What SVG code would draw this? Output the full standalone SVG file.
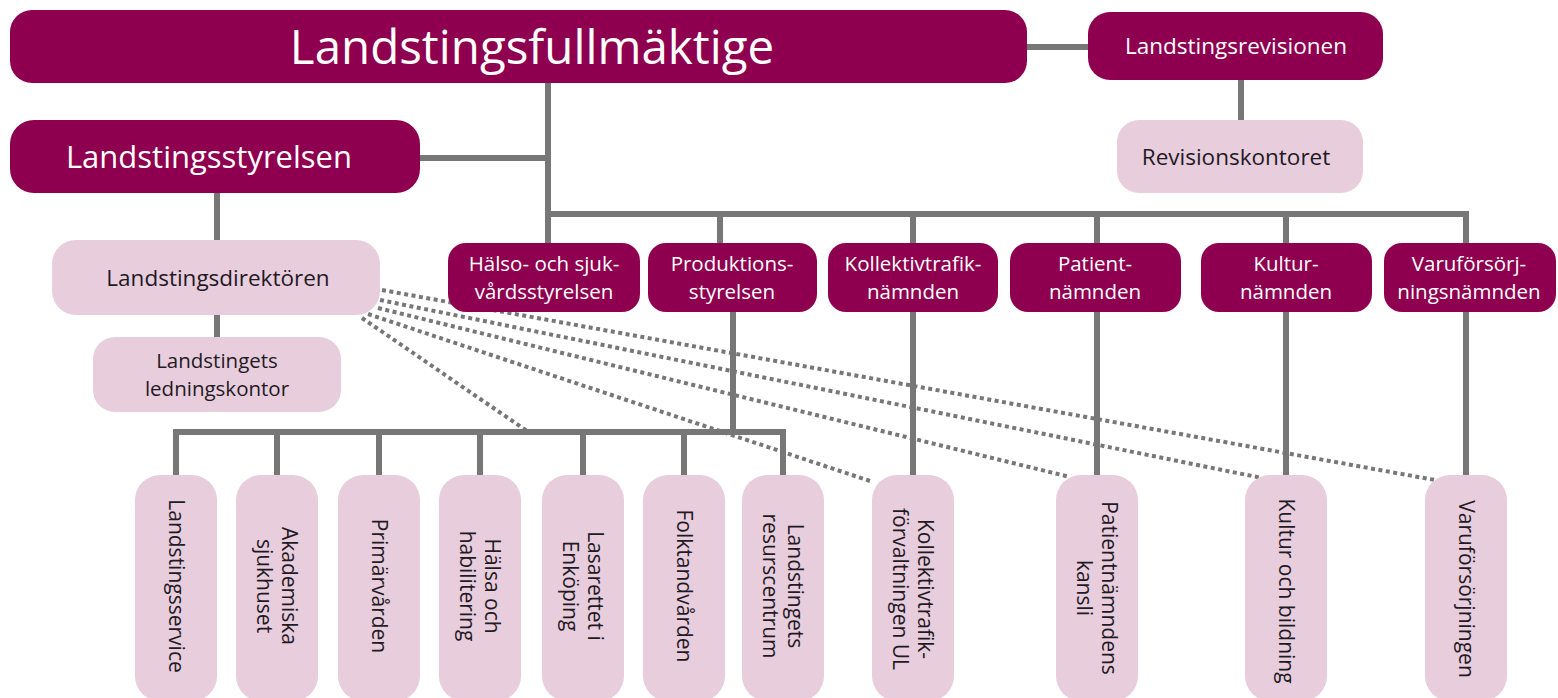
<svg xmlns="http://www.w3.org/2000/svg" width="1558" height="698" viewBox="0 0 1558 698">
<style>
.dk{fill:#8e004f}
.lt{fill:#e8cddd}
.tw{fill:#ffffff;font-family:"Open Sans","Noto Sans",sans-serif;text-anchor:middle}
.td{fill:#1f1a24;font-family:"Open Sans","Noto Sans",sans-serif;text-anchor:middle}
.m{font-size:22.5px}
.m2{font-size:20.5px}
.b{font-size:21px}
.ln{stroke:#777777;stroke-width:6;fill:none}
.dot{stroke:#777777;stroke-width:4;fill:none;stroke-dasharray:4 3.5}
</style>
<rect width="1558" height="698" fill="#ffffff"/>
<g id="connectors">
<path class="ln" d="M1027 47H1088M1241 80V120M548 83V214M420 158H548M548 214H1466M548 211V243M720 214V243M913 214V475M1097 214V475M1286 214V475M1466 211V475M217 193V240M217 315V337M733 312V432M176 475V432H783V475M277 432V475M379 432V475M480 432V475M583 432V475M684 432V475"/>
<path class="dot" d="M382 290L1435 480M380 300L1262 478M378 308L1070 477M368 314L873 482M362 318L527 431"/>
</g>
<g id="n-fullmaktige"><rect class="dk" x="10" y="10" width="1017" height="73" rx="22"/><text class="tw" x="532" y="63.5" font-size="47.5">Landstingsfullmäktige</text></g>
<g id="n-revisionen"><rect class="dk" x="1088" y="12" width="295" height="68" rx="22"/><text class="tw m" x="1236" y="54">Landstingsrevisionen</text></g>
<g id="n-revisionskontoret"><rect class="lt" x="1117" y="120" width="246" height="73" rx="22"/><text class="td m" x="1236" y="164.5">Revisionskontoret</text></g>
<g id="n-styrelsen"><rect class="dk" x="10" y="120" width="410" height="73" rx="24"/><text class="tw" x="209" y="167.5" font-size="31">Landstingsstyrelsen</text></g>
<g id="n-direktoren"><rect class="lt" x="52" y="240" width="328" height="75" rx="24"/><text class="td m" x="218" y="286">Landstingsdirektören</text></g>
<g id="n-ledningskontor"><rect class="lt" x="93" y="337" width="248" height="75" rx="22"/><text class="td m2" x="217" y="367.5">Landstingets</text><text class="td m2" x="217" y="395.5">ledningskontor</text></g>
<g id="n-halso"><rect class="dk" x="448" y="243" width="192" height="69" rx="18"/><text class="tw m2" x="544" y="271">Hälso- och sjuk-</text><text class="tw m2" x="544" y="299">vårdsstyrelsen</text></g>
<g id="n-produktion"><rect class="dk" x="648" y="243" width="169" height="69" rx="18"/><text class="tw m2" x="732" y="271">Produktions-</text><text class="tw m2" x="732" y="299">styrelsen</text></g>
<g id="n-kollektiv"><rect class="dk" x="828" y="243" width="170" height="69" rx="18"/><text class="tw m2" x="913" y="271">Kollektivtrafik-</text><text class="tw m2" x="913" y="299">nämnden</text></g>
<g id="n-patient"><rect class="dk" x="1010" y="243" width="171" height="69" rx="18"/><text class="tw m2" x="1095" y="271">Patient-</text><text class="tw m2" x="1095" y="299">nämnden</text></g>
<g id="n-kultur"><rect class="dk" x="1201" y="243" width="171" height="69" rx="18"/><text class="tw m2" x="1286" y="271">Kultur-</text><text class="tw m2" x="1286" y="299">nämnden</text></g>
<g id="n-varu"><rect class="dk" x="1384" y="243" width="172" height="69" rx="18"/><text class="tw m2" x="1469" y="271">Varuförsörj-</text><text class="tw m2" x="1469" y="299">ningsnämnden</text></g>
<g id="n-landstingsservice"><rect class="lt" x="135" y="475" width="82" height="226" rx="25"/><text class="td b" transform="translate(176,586) rotate(90)" x="0" y="7.5">Landstingsservice</text></g>
<g id="n-akademiska"><rect class="lt" x="236" y="475" width="82" height="226" rx="25"/><text class="td b" transform="translate(277,586) rotate(90)" x="0" y="-5">Akademiska</text><text class="td b" transform="translate(277,586) rotate(90)" x="0" y="20">sjukhuset</text></g>
<g id="n-primarvarden"><rect class="lt" x="338" y="475" width="82" height="226" rx="25"/><text class="td b" transform="translate(379,586) rotate(90)" x="0" y="7.5">Primärvården</text></g>
<g id="n-halsa"><rect class="lt" x="439" y="475" width="82" height="226" rx="25"/><text class="td b" transform="translate(480,586) rotate(90)" x="0" y="-5">Hälsa och</text><text class="td b" transform="translate(480,586) rotate(90)" x="0" y="20">habilitering</text></g>
<g id="n-lasarettet"><rect class="lt" x="542" y="475" width="82" height="226" rx="25"/><text class="td b" transform="translate(583,586) rotate(90)" x="0" y="-5">Lasarettet i</text><text class="td b" transform="translate(583,586) rotate(90)" x="0" y="20">Enköping</text></g>
<g id="n-folktandvarden"><rect class="lt" x="643" y="475" width="82" height="226" rx="25"/><text class="td b" transform="translate(684,586) rotate(90)" x="0" y="7.5">Folktandvården</text></g>
<g id="n-resurscentrum"><rect class="lt" x="742" y="475" width="82" height="226" rx="25"/><text class="td b" transform="translate(783,586) rotate(90)" x="0" y="-5">Landstingets</text><text class="td b" transform="translate(783,586) rotate(90)" x="0" y="20">resurscentrum</text></g>
<g id="n-kollektivforvaltning"><rect class="lt" x="872" y="475" width="82" height="226" rx="25"/><text class="td b" transform="translate(913,589) rotate(90)" x="0" y="-5">Kollektivtrafik-</text><text class="td b" transform="translate(913,589) rotate(90)" x="0" y="20">förvaltningen UL</text></g>
<g id="n-patientkansli"><rect class="lt" x="1056" y="475" width="82" height="226" rx="25"/><text class="td b" transform="translate(1097,588) rotate(90)" x="0" y="-5">Patientnämndens</text><text class="td b" transform="translate(1097,588) rotate(90)" x="0" y="20">kansli</text></g>
<g id="n-kulturbildning"><rect class="lt" x="1245" y="475" width="82" height="226" rx="25"/><text class="td b" transform="translate(1286,591) rotate(90)" x="0" y="7.5">Kultur och bildning</text></g>
<g id="n-varuforsorjningen"><rect class="lt" x="1425" y="475" width="82" height="226" rx="25"/><text class="td b" transform="translate(1466,589) rotate(90)" x="0" y="7.5">Varuförsörjningen</text></g>
</svg>
